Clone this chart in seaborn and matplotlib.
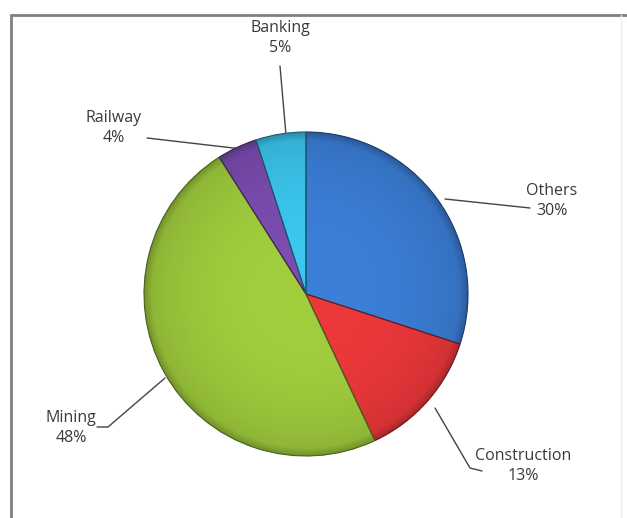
import numpy as np
import matplotlib
matplotlib.use("Agg")
import matplotlib.pyplot as plt
import matplotlib.colors as mcolors
from matplotlib.lines import Line2D
from matplotlib.patches import Wedge
import seaborn as sns

# Sector shares (percent)
sectors = ["Others", "Construction", "Mining", "Railway", "Banking"]
shares = [30, 13, 48, 4, 5]
colors = ["#3878cc", "#e03538", "#98c23a", "#7548a8", "#38bce2"]

W, H = 627, 518
sns.set_theme(style="white")
plt.rcParams["font.family"] = ["Open Sans", "DejaVu Sans"]

fig = plt.figure(figsize=(W / 100, H / 100), dpi=100)
ax = fig.add_axes([0, 0, 1, 1])


def py(y):
    # image-style y (top down) to axes y (bottom up)
    return H - y


cx, cy, R = 306, py(294), 162
explode = [0.02, 0.0, 0.0, 0.0, 0.0]
wedges, _ = ax.pie(shares, colors=colors, startangle=90, counterclock=False,
                   center=(cx, cy), radius=R, explode=explode,
                   wedgeprops=dict(linewidth=0))
ax.set_xlim(0, W)
ax.set_ylim(0, H)
ax.set_aspect("equal")
ax.axis("off")

# soft bevel shading inside each wedge, then a thin darker outline
xs = np.linspace(cx - R - 10, cx + R + 10, 400)
ys = np.linspace(cy - R - 10, cy + R + 10, 400)
X, Y = np.meshgrid(xs, ys)
for w, col in zip(wedges, colors):
    ox, oy = w.center
    r = np.hypot(X - ox, Y - oy) / R
    base = np.array(mcolors.to_rgb(col))
    light = 1.06 - 0.14 * np.clip(r, 0, 1) ** 3
    rim = np.clip((r - 0.95) / 0.05, 0, 1)
    shade = light * (1 - 0.18 * rim)
    img = np.clip(base[None, None, :] * shade[..., None], 0, 1)
    im = ax.imshow(img, extent=(xs[0], xs[-1], ys[0], ys[-1]), origin="lower",
                   interpolation="bilinear", zorder=2)
    im.set_clip_path(w)
    ax.add_patch(Wedge(w.center, w.r, w.theta1, w.theta2, fill=False,
                       edgecolor=base * 0.5, linewidth=0.8, zorder=3))

# labels with leader lines
txt = dict(fontsize=11.5, color="#3a3a3a", ha="center", va="center",
           linespacing=1.35)
lines = {
    "Banking": ([280, 286], [66, 135]),
    "Railway": ([147, 242], [138, 149]),
    "Others": ([445, 530], [199, 208]),
    "Construction": ([435, 470, 482], [408, 468, 471]),
    "Mining": ([97, 108, 165], [427, 427, 378]),
}
label_pos = {
    "Banking": (280, 38),
    "Railway": (114, 128),
    "Others": (552, 201),
    "Construction": (523, 466),
    "Mining": (71, 428),
}
for name, val in zip(sectors, shares):
    lx, ly = lines[name]
    ax.plot(lx, [py(v) for v in ly], color="#444444", lw=1.0, zorder=1)
    x, y = label_pos[name]
    ax.text(x, py(y), f"{name}\n{val}%", **txt)

# chart frame
fig.add_artist(Line2D([11 / W, 1], [1 - 15 / H, 1 - 15 / H],
                      transform=fig.transFigure, color="#808080", lw=2))
fig.add_artist(Line2D([11 / W, 11 / W], [0, 1 - 15 / H],
                      transform=fig.transFigure, color="#808080", lw=2))
fig.add_artist(Line2D([621 / W, 621 / W], [0, 1 - 15 / H],
                      transform=fig.transFigure, color="#eeeeee", lw=1))

fig.savefig("out.png", dpi=100, facecolor="white")
